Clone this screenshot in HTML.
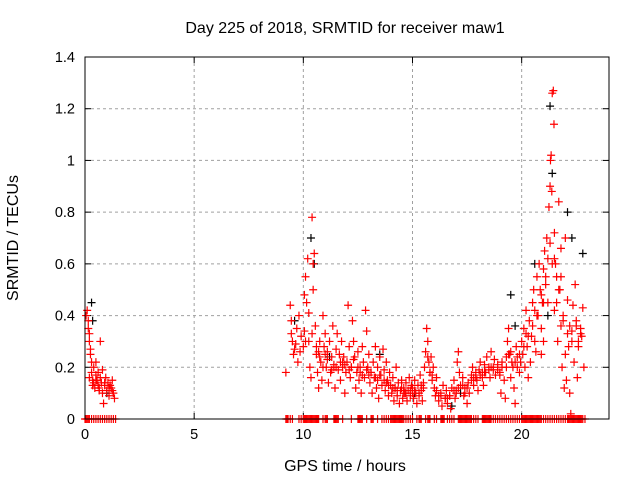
<!DOCTYPE html>
<html><head><meta charset="utf-8"><style>
body{margin:0;background:#fff}
svg{display:block;font-family:"Liberation Sans",sans-serif}
</style></head><body>
<svg id="chart" width="640" height="480">
<rect width="640" height="480" fill="#fff"/>
<text x="345" y="33" text-anchor="middle" font-size="16">Day 225 of 2018, SRMTID for receiver maw1</text>
<text x="345" y="471" text-anchor="middle" font-size="16">GPS time / hours</text>
<text transform="translate(18,238) rotate(-90)" text-anchor="middle" font-size="16">SRMTID / TECUs</text>
<g id="grid"></g><g id="ticks"></g><g id="marks"></g>
<rect x="85" y="57" width="524" height="362" fill="none" stroke="#000"/>
</svg>
<script>
const xTicks=[0,5,10,15,20];
const yTicks=[0,0.2,0.4,0.6,0.8,1,1.2,1.4];
const yTickLabels=["0","0.2","0.4","0.6","0.8","1","1.2","1.4"];
const redTimes=[0.05,0.1,0.15,0.15,0.2,0.2,0.25,0.25,0.3,0.3,0.35,0.4,0.4,0.45,0.5,0.5,0.55,0.6,0.6,0.65,0.7,0.7,0.75,0.8,0.8,0.85,0.9,0.95,1.0,1.05,1.1,1.15,1.2,1.25,1.3,1.35,
9.2,9.4,9.45,9.5,9.55,9.6,9.7,9.75,9.8,9.9,10.0,10.05,10.1,10.15,10.2,10.25,10.3,10.35,10.4,10.45,10.5,10.55,10.6,10.65,10.7,10.75,10.8,10.85,10.9,10.95,11.0,11.05,11.1,11.15,11.2,11.25,11.3,11.35,11.4,11.45,11.5,11.55,11.6,11.65,11.7,11.75,11.8,11.85,11.9,11.95,
12.0,12.05,12.1,12.15,12.2,12.25,12.3,12.35,12.4,12.45,12.5,12.55,12.6,12.65,12.7,12.75,12.8,12.85,12.9,12.95,13.0,13.05,13.1,13.15,13.2,13.25,13.3,13.35,13.4,13.45,13.5,13.55,13.6,13.65,13.7,13.75,13.8,13.85,13.9,13.95,14.0,14.05,14.1,14.15,14.2,14.25,14.3,14.35,14.4,14.45,14.5,14.55,14.6,14.65,14.7,14.75,14.8,14.85,14.9,14.95,
15.0,15.05,15.1,15.15,15.2,15.25,15.3,15.35,15.4,15.45,15.5,15.55,15.6,15.65,15.7,15.75,15.8,15.85,15.9,15.95,16.0,16.05,16.1,16.2,16.3,16.35,16.4,16.5,16.55,16.6,16.7,16.75,16.8,16.9,16.95,17.0,17.05,17.1,17.15,17.2,17.3,17.35,17.4,17.5,17.55,17.6,17.7,17.75,17.8,17.9,17.95,
18.0,18.05,18.1,18.2,18.25,18.3,18.35,18.4,18.5,18.55,18.6,18.7,18.75,18.8,18.9,19.0,19.05,19.1,19.2,19.25,19.3,19.35,19.4,19.45,19.5,19.55,19.6,19.65,19.7,19.75,19.8,19.9,19.95,
20.0,20.05,20.1,20.15,20.2,20.25,20.3,20.35,20.4,20.45,20.5,20.55,20.6,20.65,20.7,20.75,20.8,20.85,20.9,20.95,21.0,21.05,21.1,21.15,21.2,21.25,21.3,21.32,21.35,21.38,21.4,21.45,21.48,21.5,21.55,21.6,21.65,21.7,21.75,21.8,21.85,21.9,21.95,22.0,22.05,22.1,22.15,22.2,22.25,22.3,22.35,22.4,22.45,22.5,22.55,22.6,22.7,22.75,22.8,22.85,21.0,21.2,20.9,21.6,21.8,22.0,21.5,
0.2,0.35,0.5,0.65,0.9,1.1,1.25,
9.45,9.65,9.85,10.05,10.25,10.45,10.6,10.75,10.9,11.1,11.3,11.5,11.7,11.9,12.1,12.3,12.5,12.7,12.9,13.1,13.3,13.5,13.7,13.9,14.1,14.3,14.5,14.7,14.9,15.1,15.3,15.5,15.7,15.9,16.1,16.3,16.5,16.7,16.9,17.1,17.3,17.5,17.7,17.9,18.1,18.3,18.5,18.7,18.9,19.1,19.3,19.5,19.7,19.9,20.1,20.3,20.5,20.7,20.9,21.1,21.3,21.5,21.7,21.9,22.1,22.3,22.5,22.7,
10.1,10.4,10.7,11.0,11.4,11.8,12.2,12.6,13.0,13.4,13.8,14.2,14.6,15.0,15.4,15.8,16.2,16.6,17.0,17.4,17.8,18.2,18.6,19.0,19.4,19.8,20.2,20.6,21.0,21.4,21.8,22.2,22.6];
const redValues=[0.4,0.42,0.38,0.35,0.33,0.3,0.27,0.25,0.22,0.18,0.15,0.14,0.2,0.12,0.17,0.22,0.15,0.13,0.18,0.11,0.16,0.3,0.14,0.1,0.19,0.06,0.13,0.16,0.11,0.14,0.09,0.13,0.12,0.15,0.1,0.08,
0.18,0.44,0.38,0.3,0.25,0.27,0.35,0.22,0.4,0.32,0.28,0.48,0.55,0.45,0.62,0.3,0.2,0.16,0.78,0.6,0.64,0.36,0.25,0.18,0.12,0.3,0.22,0.15,0.4,0.28,0.33,0.2,0.26,0.14,0.3,0.18,0.24,0.36,0.21,0.12,0.27,0.33,0.19,0.25,0.15,0.3,0.2,0.24,0.1,0.18,
0.22,0.44,0.28,0.16,0.2,0.38,0.3,0.24,0.12,0.18,0.26,0.15,0.2,0.1,0.28,0.22,0.16,0.42,0.34,0.2,0.25,0.14,0.18,0.1,0.22,0.16,0.28,0.12,0.2,0.08,0.24,0.17,0.13,0.27,0.19,0.11,0.22,0.15,0.09,0.18,0.13,0.1,0.16,0.07,0.12,0.2,0.09,0.14,0.06,0.11,0.15,0.08,0.12,0.1,0.14,0.07,0.11,0.16,0.09,0.13,
0.12,0.08,0.15,0.1,0.06,0.13,0.09,0.17,0.11,0.07,0.14,0.2,0.26,0.35,0.3,0.22,0.18,0.24,0.15,0.2,0.12,0.09,0.16,0.07,0.1,0.05,0.13,0.08,0.11,0.06,0.09,0.04,0.12,0.15,0.08,0.1,0.22,0.26,0.18,0.13,0.16,0.09,0.12,0.06,0.14,0.1,0.17,0.2,0.13,0.18,0.15,
0.11,0.19,0.22,0.16,0.13,0.21,0.18,0.24,0.2,0.16,0.26,0.19,0.23,0.17,0.21,0.18,0.1,0.22,0.15,0.08,0.2,0.3,0.35,0.25,0.16,0.22,0.2,0.12,0.06,0.28,0.24,0.18,0.22,
0.3,0.25,0.35,0.2,0.42,0.28,0.16,0.38,0.22,0.32,0.45,0.5,0.3,0.26,0.55,0.4,0.6,0.5,0.35,0.45,0.58,0.65,0.52,0.7,0.62,0.82,0.9,1.0,1.02,0.88,1.26,1.27,1.14,0.72,0.6,0.45,0.3,0.84,0.5,0.36,0.2,0.4,0.12,0.25,0.15,0.46,0.28,0.1,0.02,0.34,0.44,0.22,0.52,0.38,0.16,0.3,0.35,0.32,0.43,0.2,0.3,0.45,0.25,0.55,0.66,0.7,0.42,
0.16,0.13,0.15,0.12,0.14,0.12,0.11,
0.33,0.29,0.26,0.34,0.41,0.5,0.28,0.24,0.2,0.23,0.19,0.2,0.22,0.21,0.19,0.23,0.2,0.17,0.19,0.18,0.16,0.17,0.15,0.13,0.12,0.11,0.12,0.1,0.11,0.11,0.1,0.12,0.24,0.17,0.11,0.09,0.08,0.09,0.11,0.12,0.13,0.12,0.15,0.16,0.17,0.18,0.19,0.2,0.19,0.2,0.24,0.26,0.22,0.25,0.28,0.32,0.36,0.4,0.48,0.55,0.68,0.62,0.5,0.38,0.33,0.3,0.36,0.33,
0.3,0.33,0.26,0.25,0.2,0.22,0.2,0.18,0.17,0.15,0.14,0.12,0.1,0.1,0.13,0.18,0.09,0.08,0.11,0.1,0.16,0.18,0.2,0.17,0.25,0.2,0.33,0.42,0.45,0.6,0.55,0.36,0.28];
const blackTimes=[0.3,0.35,1.0,9.6,10.35,10.5,11.2,13.5,15.1,16.8,17.2,19.5,19.7,20.6,21.3,21.4,22.1,22.3,22.8,21.2];
const blackValues=[0.45,0.38,0.1,0.38,0.7,0.6,0.24,0.25,0.1,0.05,0.1,0.48,0.36,0.6,1.21,0.95,0.8,0.7,0.64,0.4];
const zeroTimes=[0,0.05,0.1,0.15,0.2,0.3,0.4,0.5,0.6,0.7,0.8,0.9,1.0,1.1,1.2,1.3,1.4,
9.2,9.3,9.4,9.5,9.8,9.9,10.0,10.1,10.2,10.3,10.4,10.5,10.6,10.7,10.9,11.0,11.1,11.4,11.5,11.6,11.8,12.2,12.5,12.6,12.7,12.9,13.1,13.2,13.4,13.6,13.7,13.8,13.9,14.0,14.1,14.2,14.3,14.4,14.5,14.6,14.7,14.8,14.9,15.0,15.2,15.3,15.4,15.6,15.7,15.8,16.0,16.1,16.3,16.4,16.6,16.7,16.8,16.9,17.1,17.2,17.3,17.4,17.5,17.6,17.7,17.8,17.9,18.0,18.2,18.3,18.4,18.5,18.6,18.7,18.8,18.9,19.0,19.1,19.2,19.3,19.4,19.5,19.6,19.7,19.8,19.9,20.0,20.1,20.2,20.3,20.4,20.5,20.6,20.7,20.8,20.9,21.0,21.1,21.2,21.3,21.4,21.5,21.6,21.7,21.8,21.9,22.0,22.1,22.2,22.3,22.4,22.5,22.6,22.7,22.8,22.9,
9.25,10.05,10.15,10.25,10.35,10.45,10.55,10.65,11.05,11.45,11.55,12.55,12.65,13.15,14.05,14.15,14.25,14.35,14.45,14.55,15.35,15.75,16.35,16.45,17.15,17.25,17.35,17.45,17.55,17.65,18.25,18.35,18.45,18.55,20.05,20.15,20.25,20.35,20.45,20.55,20.65,20.75,20.85,22.15,22.25,22.35,22.45,22.55,22.65,22.75];

const X0=85,X1=609,Y0=419,Y1=57;
const xs=v=>X0+(v/24)*(X1-X0);
const ys=v=>Y0-(v/1.4)*(Y0-Y1);
const NS='http://www.w3.org/2000/svg';
function mk(tag,attrs,parent){const e=document.createElementNS(NS,tag);for(const k in attrs)e.setAttribute(k,attrs[k]);parent.appendChild(e);return e;}
const grid=document.getElementById('grid'),ticks=document.getElementById('ticks'),marks=document.getElementById('marks');
xTicks.forEach(t=>{
  const x=xs(t);
  if(t>0){const g=mk('line',{x1:x,x2:x,y1:Y1,y2:Y0,stroke:'#a0a0a0','stroke-dasharray':'3,3'},grid);
  
  }
  mk('line',{x1:x,x2:x,y1:Y0,y2:Y0-6,stroke:'#000'},ticks);
  mk('line',{x1:x,x2:x,y1:Y1,y2:Y1+6,stroke:'#000'},ticks);
  const l=mk('text',{x:x,y:Y0+20,'text-anchor':'middle','font-size':14.5},ticks);l.textContent=String(t);
  
  
});
yTicks.forEach((t,i)=>{
  const y=ys(t);
  if(t>0&&t<1.4){const g=mk('line',{x1:X0,x2:X1,y1:y,y2:y,stroke:'#a0a0a0','stroke-dasharray':'3,3'},grid);
  
  }
  mk('line',{x1:X0,x2:X0+6,y1:y,y2:y,stroke:'#000'},ticks);
  mk('line',{x1:X1,x2:X1-6,y1:y,y2:y,stroke:'#000'},ticks);
  const l=mk('text',{x:X0-10,y:y+5,'text-anchor':'end','font-size':14.5},ticks);l.textContent=yTickLabels[i];
  
  
});
function plus(t,v,col,name){
  const x=xs(t),y=ys(v);
  const p=mk('path',{d:`M${x-4} ${y}H${x+4}M${x} ${y-4}V${y+4}`,stroke:col,'stroke-width':1.2,fill:'none'},marks);
  
  
}
zeroTimes.forEach(t=>plus(t,0,'#ff0000','zero-point'));
blackTimes.forEach((t,i)=>plus(t,blackValues[i],'#000','black-point'));
redTimes.forEach((t,i)=>plus(t,redValues[i],'#ff0000','red-point'));
</script>
</body></html>
